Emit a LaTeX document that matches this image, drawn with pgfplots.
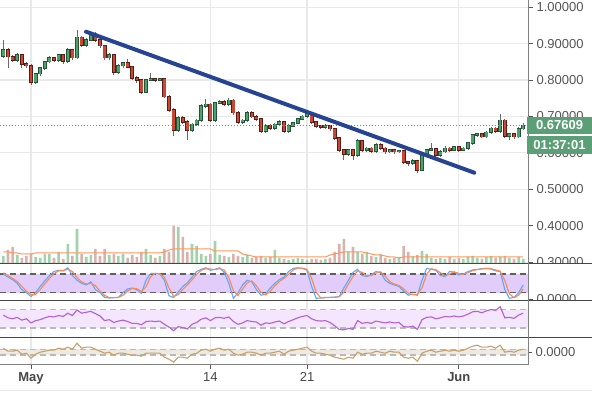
\documentclass[border=0pt]{standalone}
\usepackage{fontspec}
\setmainfont{Liberation Sans}
\usepackage{pgfplots}
\pgfplotsset{compat=1.18}
\usepackage{pgfplotstable}
\definecolor{upfill}{RGB}{80,160,105}
\definecolor{upline}{RGB}{34,84,55}
\definecolor{dnfill}{RGB}{200,72,52}
\definecolor{dnline}{RGB}{91,26,19}
\definecolor{wick}{RGB}{105,105,110}
\definecolor{trend}{RGB}{38,68,145}
\definecolor{gridc}{RGB}{233,233,233}
\definecolor{tickc}{RGB}{85,85,85}
\definecolor{sepc}{RGB}{70,70,70}
\definecolor{axc}{RGB}{130,130,130}
\definecolor{pricebox}{RGB}{91,159,118}
\definecolor{volG}{RGB}{160,210,172}
\definecolor{volR}{RGB}{216,178,172}
\definecolor{volma}{RGB}{255,150,90}
\definecolor{stK}{RGB}{90,170,255}
\definecolor{stD}{RGB}{255,135,80}
\definecolor{stband}{RGB}{226,204,250}
\definecolor{rsiband}{RGB}{243,230,253}
\definecolor{rsil}{RGB}{180,95,210}
\definecolor{mband}{RGB}{238,234,226}
\definecolor{ml}{RGB}{200,160,105}
\definecolor{dashdark}{RGB}{95,95,95}
\definecolor{dashlight}{RGB}{185,185,185}

% rising candles: index, open, high, low, close, volume
\pgfplotstableread{
i o h l c v
-6 0.866 0.910 0.862 0.883 8
-3 0.855 0.874 0.851 0.869 9
1 0.795 0.820 0.790 0.817 7
2 0.817 0.836 0.812 0.833 6
3 0.833 0.853 0.829 0.850 10
4 0.850 0.866 0.846 0.861 10
6 0.855 0.873 0.851 0.869 12
8 0.852 0.888 0.848 0.883 20
10 0.861 0.938 0.857 0.918 35
12 0.896 0.915 0.892 0.910 7
13 0.910 0.935 0.906 0.929 9
17 0.861 0.874 0.856 0.869 9
19 0.822 0.843 0.817 0.839 8
20 0.839 0.851 0.834 0.847 10
25 0.767 0.804 0.764 0.800 15
26 0.800 0.820 0.797 0.803 9
28 0.800 0.807 0.797 0.803 8
32 0.663 0.700 0.658 0.696 37
35 0.663 0.683 0.658 0.679 20
36 0.679 0.694 0.675 0.690 18
37 0.690 0.733 0.686 0.729 10
38 0.729 0.748 0.724 0.734 8
40 0.690 0.741 0.686 0.737 23
41 0.737 0.746 0.733 0.740 9
43 0.734 0.750 0.730 0.745 7
46 0.685 0.694 0.680 0.690 7
47 0.690 0.715 0.686 0.710 9
51 0.660 0.678 0.656 0.674 6
53 0.668 0.683 0.664 0.679 14
54 0.679 0.690 0.675 0.685 6
56 0.660 0.678 0.656 0.674 4
57 0.674 0.686 0.670 0.682 5
58 0.682 0.697 0.678 0.693 6
59 0.693 0.705 0.689 0.701 5
60 0.701 0.712 0.697 0.707 4
64 0.671 0.678 0.667 0.674 5
69 0.597 0.612 0.592 0.608 12
71 0.594 0.638 0.590 0.633 12
73 0.608 0.617 0.603 0.613 12
75 0.605 0.626 0.601 0.622 7
78 0.603 0.612 0.599 0.608 5
80 0.603 0.609 0.600 0.605 7
83 0.572 0.582 0.568 0.578 8
85 0.553 0.598 0.549 0.594 13
86 0.594 0.612 0.590 0.608 10
87 0.608 0.627 0.604 0.611 6
89 0.594 0.607 0.590 0.603 6
90 0.603 0.620 0.599 0.613 5
92 0.608 0.620 0.604 0.616 5
94 0.608 0.617 0.604 0.613 5
95 0.613 0.631 0.609 0.627 7
96 0.627 0.653 0.623 0.649 8
97 0.649 0.656 0.645 0.652 6
99 0.644 0.661 0.640 0.657 7
100 0.657 0.672 0.653 0.668 8
102 0.660 0.707 0.656 0.690 7
104 0.646 0.656 0.635 0.652 6
106 0.644 0.670 0.640 0.666 7
107 0.666 0.682 0.662 0.676 5
}\up

% falling candles
\pgfplotstableread{
i o h l c v
-5 0.883 0.888 0.833 0.864 14
-4 0.864 0.868 0.849 0.855 17
-2 0.869 0.873 0.834 0.844 6
-1 0.844 0.849 0.833 0.839 8
0 0.839 0.843 0.786 0.795 10
5 0.861 0.864 0.850 0.855 6
7 0.869 0.872 0.845 0.852 5
9 0.883 0.886 0.855 0.861 8
11 0.918 0.922 0.890 0.896 10
14 0.929 0.932 0.904 0.910 15
15 0.910 0.914 0.889 0.894 8
16 0.894 0.897 0.855 0.861 15
18 0.869 0.872 0.815 0.822 10
21 0.847 0.857 0.832 0.836 6
22 0.836 0.840 0.800 0.806 9
23 0.806 0.810 0.793 0.800 7
24 0.800 0.803 0.762 0.767 12
27 0.803 0.806 0.796 0.800 6
29 0.803 0.806 0.750 0.754 15
30 0.754 0.758 0.712 0.718 12
31 0.718 0.722 0.646 0.663 38
33 0.696 0.700 0.680 0.685 27
34 0.685 0.690 0.635 0.663 12
39 0.734 0.738 0.684 0.690 10
42 0.740 0.744 0.729 0.734 8
44 0.745 0.748 0.705 0.710 10
45 0.710 0.714 0.679 0.685 8
48 0.710 0.714 0.695 0.699 6
49 0.699 0.703 0.688 0.693 7
50 0.693 0.697 0.655 0.660 8
52 0.674 0.679 0.663 0.668 7
55 0.685 0.688 0.655 0.660 5
61 0.707 0.710 0.680 0.685 5
62 0.685 0.688 0.669 0.674 5
63 0.674 0.677 0.666 0.671 4
65 0.674 0.677 0.661 0.666 6
66 0.666 0.669 0.636 0.641 12
67 0.641 0.644 0.603 0.608 20
68 0.608 0.612 0.581 0.597 25
70 0.608 0.611 0.581 0.594 17
72 0.633 0.636 0.603 0.608 10
74 0.613 0.616 0.600 0.605 8
76 0.622 0.627 0.609 0.613 10
77 0.613 0.617 0.598 0.603 6
79 0.608 0.611 0.598 0.603 6
81 0.605 0.609 0.570 0.575 18
82 0.575 0.579 0.565 0.572 12
84 0.578 0.581 0.545 0.553 9
88 0.611 0.614 0.589 0.594 5
91 0.613 0.617 0.603 0.608 7
93 0.616 0.619 0.603 0.608 6
98 0.652 0.655 0.640 0.644 5
101 0.668 0.671 0.656 0.660 6
103 0.690 0.694 0.641 0.646 8
105 0.652 0.656 0.638 0.644 5
}\dn

% indicators: volume MA, stoch K, stoch D, RSI, oscillator
\pgfplotstableread{
i ma k d r m
-6 12 80 84 58 4
-5 12 70 75 52 1
-4 11 62 66 50 1
-3 11 50 56 53 2
-2 10 30 40 47 -2
-1 10 20 25 50 -1
0 10 8 14 41 -6
1 11 20 14 46 -2
2 11 40 30 48 0
3 11 58 49 52 1
4 11 75 66 55 2
5 11 88 81 54 2
6 11 92 90 57 4
7 11 90 91 55 3
8 11 100 95 62 5
9 11 75 88 57 3
10 11 60 68 69 9
11 11 50 55 62 4
12 11 45 48 64 5
13 11 55 50 66 5
14 11 30 43 61 3
15 11 20 25 56 1
16 11 5 12 46 -1
17 11 3 4 48 0
18 11 4 4 42 -3
19 11 5 5 45 -1
20 11 20 12 47 -1
21 11 32 26 44 -2
22 11 35 34 40 -3
23 11 30 33 40 -3
24 11 18 24 37 -4
25 11 60 39 44 -1
26 11 82 71 45 -1
27 11 82 82 44 -1
28 11 80 81 45 -1
29 12 60 70 38 -5
30 14 10 35 32 -7
31 15 5 8 24 -10
32 15 22 14 33 -5
33 15 40 31 31 -5
34 15 52 46 28 -6
35 15 70 61 38 -2
36 15 88 79 42 -1
37 15 95 92 49 2
38 15 100 97 52 3
39 15 92 96 46 1
40 13 95 94 52 3
41 13 100 97 53 4
42 13 85 93 51 2
43 13 50 68 54 3
44 13 2 26 44 -1
45 13 20 11 38 -3
46 10 45 32 41 -2
47 9 60 52 46 0
48 8 55 58 44 0
49 7 30 42 43 -1
50 7 12 21 36 -3
51 7 15 13 41 -1
52 7 35 25 40 -1
53 7 50 42 43 0
54 7 62 56 45 1
55 7 70 66 39 -2
56 7 88 79 44 1
57 7 98 93 48 2
58 7 100 99 52 3
59 7 98 99 55 4
60 7 92 95 57 5
61 7 40 66 50 1
62 7 2 21 46 -1
63 7 3 3 45 -1
64 7 5 4 46 -2
65 9 5 5 42 -3
66 10 6 5 35 -5
67 11 8 7 27 -6
68 12 35 21 26 -7
69 12 60 48 29 -5
70 12 85 72 27 -6
71 12 95 90 46 0
72 12 75 85 40 -2
73 11 72 74 42 -1
74 10 78 75 40 -1
75 9 88 83 45 1
76 9 85 87 43 0
77 8 60 73 41 -1
78 7 50 55 43 1
79 7 45 48 41 0
80 6 40 43 42 0
81 7 25 33 33 -5
82 7 12 18 32 -6
83 7 15 14 34 -5
84 7 12 14 27 -9
85 7 60 36 48 -1
86 7 98 79 53 1
87 7 95 97 54 2
88 7 92 94 50 0
89 7 75 84 52 1
90 7 72 74 55 2
91 7 88 80 54 1
92 7 86 87 56 2
93 7 77 82 54 1
94 7 80 79 56 2
95 7 88 84 60 4
96 7 93 91 65 6
97 7 95 94 66 7
98 7 97 96 63 5
99 7 98 98 67 5
100 7 96 97 70 6
101 7 90 93 68 4
102 7 88 89 76 7
103 7 30 59 52 0
104 7 2 16 53 1
105 7 5 4 51 0
106 7 20 12 58 2
107 7 45 32 62 3
}\ind

\pgfplotsset{
  panel/.style={
    scale only axis, width=528pt,
    xmin=-6.739, xmax=108.04,
    axis line style={draw=none},
    xtick={0,39,60,93}, xticklabels={},
    xtick style={draw=none},
    xmajorgrids=true,
    major grid style={draw=gridc, line width=1.2pt},
    ytick pos=right, yticklabel pos=right,
    tick align=outside, major tick length=5pt,
    ytick style={draw=tickc, line width=0.8pt},
    ticklabel style={font=\fontsize{13}{15}\selectfont, text=tickc},
    yticklabel style={anchor=west},
  },
  candle/.style={draw=none, mark=none,
    error bars/y explicit, error bars/error mark=none, error bars/y dir=plus},
}

\begin{document}
\begin{tikzpicture}

% main price panel
\begin{axis}[panel, at={(0pt,132pt)}, anchor=south west, height=264pt,
  ymin=0.2948, ymax=1.0200,
  ytick={0.3,0.4,0.5,0.6,0.7,0.8,0.9,1.0},
  yticklabels={0.30000,0.40000,0.50000,0.60000,0.70000,0.80000,0.90000,1.00000},
  ymajorgrids=true]
\addplot[candle, error bars/error bar style={draw=wick, line width=0.9pt}]
  table[x=i, y=l, y error plus expr=\thisrow{h}-\thisrow{l}] {\up};
\addplot[candle, error bars/error bar style={draw=wick, line width=0.9pt}]
  table[x=i, y=l, y error plus expr=\thisrow{h}-\thisrow{l}] {\dn};
\addplot[candle, error bars/error bar style={draw=upline, line width=3.9pt, shorten <=-0.6pt, shorten >=-0.6pt}]
  table[x=i, y=o, y error plus expr=\thisrow{c}-\thisrow{o}] {\up};
\addplot[candle, error bars/error bar style={draw=upfill, line width=2.5pt}]
  table[x=i, y=o, y error plus expr=\thisrow{c}-\thisrow{o}] {\up};
\addplot[candle, error bars/error bar style={draw=dnline, line width=3.9pt, shorten <=-0.6pt, shorten >=-0.6pt}]
  table[x=i, y=c, y error plus expr=\thisrow{o}-\thisrow{c}] {\dn};
\addplot[candle, error bars/error bar style={draw=dnfill, line width=2.5pt}]
  table[x=i, y=c, y error plus expr=\thisrow{o}-\thisrow{c}] {\dn};
\addplot[draw=pricebox, line width=0.9pt, dash pattern=on 1.2pt off 1.8pt] coordinates {(-6.739,0.67609) (108.04,0.67609)};
\addplot[draw=trend, line width=4pt, line cap=round] coordinates {(11.96,0.933) (96.37,0.5456)};
\end{axis}

% volume overlay
\begin{axis}[panel, at={(0pt,132pt)}, anchor=south west, height=264pt,
  ymin=0, ymax=264, hide axis]
\addplot[ybar, bar width=2.6pt, bar shift=0pt, fill=volG, draw=none] table[x=i, y=v] {\up};
\addplot[ybar, bar width=2.6pt, bar shift=0pt, fill=volR, draw=none] table[x=i, y=v] {\dn};
\addplot[draw=volma, line width=1pt] table[x=i, y=ma] {\ind};
\end{axis}

% stochastic RSI panel
\begin{axis}[panel, at={(0pt,95pt)}, anchor=south west, height=37pt,
  ymin=-6.6, ymax=112.1, ytick={0}, yticklabels={0.0000}]
\addplot[fill=stband, draw=none] coordinates {(-6.739,20) (108.04,20) (108.04,80) (-6.739,80)} -- cycle;
\addplot[draw=dashdark, line width=1.1pt, dash pattern=on 6pt off 4pt] coordinates {(-6.739,80) (108.04,80)};
\addplot[draw=dashdark, line width=1.1pt, dash pattern=on 6pt off 4pt] coordinates {(-6.739,20) (108.04,20)};
\addplot[draw=stK, line width=1.1pt] table[x=i, y=k] {\ind};
\addplot[draw=stD, line width=1.1pt] table[x=i, y=d] {\ind};
\end{axis}

% RSI panel
\begin{axis}[panel, at={(0pt,58pt)}, anchor=south west, height=37pt,
  ymin=8.4, ymax=88.4, ytick=\empty]
\addplot[fill=rsiband, draw=none] coordinates {(-6.739,30) (108.04,30) (108.04,70) (-6.739,70)} -- cycle;
\addplot[draw=dashlight, line width=1.1pt, dash pattern=on 6pt off 4pt] coordinates {(-6.739,70) (108.04,70)};
\addplot[draw=dashlight, line width=1.1pt, dash pattern=on 6pt off 4pt] coordinates {(-6.739,30) (108.04,30)};
\addplot[draw=rsil, line width=1.1pt] table[x=i, y=r] {\ind};
\end{axis}

% bottom oscillator panel
\begin{axis}[panel, at={(0pt,31pt)}, anchor=south west, height=27pt,
  ymin=-12.8, ymax=14.2, ytick={0}, yticklabels={0.0000},
  xtick pos=left, xtick style={draw=tickc, line width=0.8pt}, major tick length=4pt,
  xticklabels={\textbf{May},14,21,\textbf{Jun}},
  xticklabel style={text=sepc}]
\addplot[fill=mband, draw=none] coordinates {(-6.739,-2.8) (108.04,-2.8) (108.04,2.9) (-6.739,2.9)} -- cycle;
\addplot[draw=dashlight, line width=1.1pt, dash pattern=on 6pt off 4pt] coordinates {(-6.739,2.9) (108.04,2.9)};
\addplot[draw=dashlight, line width=1.1pt, dash pattern=on 6pt off 4pt] coordinates {(-6.739,-2.8) (108.04,-2.8)};
\addplot[draw=ml, line width=1.1pt] table[x=i, y=m] {\ind};
\end{axis}

% masks for clipped tick labels
\fill[white] (529pt,123pt) rectangle (592pt,131.5pt);
\fill[white] (529pt,87pt) rectangle (592pt,94.5pt);
% frame lines
\draw[sepc, line width=1pt] (0pt,132pt) -- (592pt,132pt);
\draw[sepc, line width=1pt] (0pt,95pt) -- (592pt,95pt);
\draw[sepc, line width=1pt] (0pt,58pt) -- (592pt,58pt);
\draw[axc, line width=1pt] (0pt,31pt) -- (528pt,31pt);
\draw[axc, line width=1pt] (528pt,396pt) -- (528pt,31pt);
\draw[gridc, line width=1pt] (0pt,5pt) -- (592pt,5pt);
% price labels
\fill[pricebox] (527pt,262pt) rectangle (592pt,279pt);
\node[text=white, font=\fontsize{13}{15}\selectfont\bfseries] at (559.5pt,270.5pt) {0.67609};
\fill[pricebox] (527pt,241.5pt) rectangle (592pt,259.5pt);
\node[text=white, font=\fontsize{13}{15}\selectfont\bfseries] at (559.5pt,250.5pt) {01:37:01};

\pgfresetboundingbox
\path[use as bounding box] (0pt,0pt) rectangle (592pt,396pt);
\end{tikzpicture}
\end{document}
